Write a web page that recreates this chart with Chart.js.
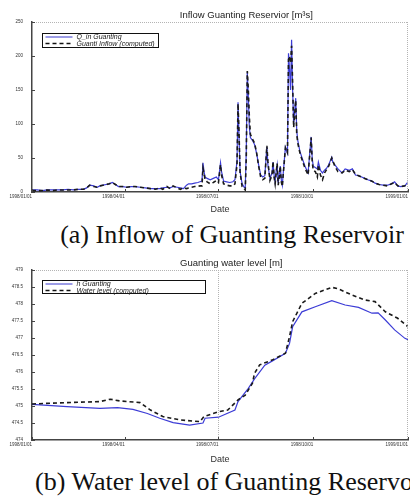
<!DOCTYPE html>
<html><head><meta charset="utf-8">
<script src="https://cdn.jsdelivr.net/npm/chart.js@4"></script>
<style>
html,body{margin:0;padding:0;background:#fff;width:410px;height:498px;overflow:hidden;position:relative}
.c{position:absolute;left:0;width:410px;height:215px}
.cap{position:absolute;left:0;width:464px;text-align:center;white-space:nowrap;font-family:"Liberation Serif","Times New Roman",serif;font-size:26px;line-height:26px;color:#111}
</style></head><body>
<div class="c" style="top:0"><canvas id="c1"></canvas></div>
<div class="cap" style="top:222px">(a) Inflow of Guanting Reservoir</div>
<div class="c" style="top:250px"><canvas id="c2"></canvas></div>
<div class="cap" style="top:469px">(b) Water level of Guanting Reservoir</div>
<script>
// ---- shared x axis (days since 1998/01/01) ----
const xTickDays = [0, 90, 181, 273, 365];
const xTickLabels = ['1998/01/01', '1998/04/01', '1998/07/01', '1998/10/01', '1999/01/01'];

// ---- chart (a): inflow ----
const inflowTitle = 'Inflow Guanting Reservior [m\u00b3s]';
const inflowNames = ['Q_in Guanting', 'Guanti Inflow (computed)'];
const inflowYTicks = [0, 50, 100, 150, 200, 250];
const inflowYLabels = ['0', '50', '100', '150', '200', '250'];
const inflowDays = [
  0,5,10,15,20,25,30,35,40,45,
  50,53,56,60,63,66,69,72,75,78,
  81,84,88,92,96,100,105,110,115,120,
  124,127,131,134,137,141,144,147,150,152,
  155,158,161,163,165,166,167,168,170,173,
  176,179,181,183,184,186,189,192,195,197,
  199,200,201,202,204,206,207,208,209,210,
  211,212,214,216,218,220,222,224,226,228,
  229,231,233,234,235,236,237,238,239,240,
  241,242,243,244,246,248,249,250,251,252,
  253,254,256,257,258,260,262,265,268,271,
  272,273,275,277,278,280,282,284,286,288,
  291,292,294,297,301,304,308,311,314,317,
  320,323,326,330,333,337,341,345,349,352,
  355,358,362,365];
const inflowObserved = [
  3,3,2,3,3,3,3,4,3,4,
  4,6,10,9,7,9,10,11,12,14,
  11,8,8,7,8,8,7,6,5,5,
  5,6,7,6,8,7,6,5,10,12,
  12,13,14,15,16,43,30,22,20,18,
  20,22,18,43,30,16,15,14,15,18,
  45,132,80,30,12,7,6,60,176,140,
  95,80,76,70,57,40,25,22,24,66,
  40,20,28,44,25,15,30,40,13,25,
  38,18,10,30,66,57,204,180,150,224,
  150,100,138,90,76,60,51,38,28,81,
  50,38,36,34,44,32,28,32,35,40,
  51,44,40,34,28,34,32,34,25,24,
  22,20,18,16,13,11,10,10,12,15,
  9,8,9,15];
const inflowComputed = [
  2,2,2,3,2,3,3,3,3,4,
  4,6,10,8,7,9,10,11,12,14,
  11,8,8,7,8,8,7,6,5,4,
  6,4,8,5,9,6,4,6,5,6,
  7,8,8,9,9,35,28,18,15,12,
  14,17,14,40,25,12,10,9,9,12,
  40,130,85,28,8,4,3,50,178,150,
  110,85,78,72,58,38,22,18,20,68,
  45,17,25,45,22,12,28,42,10,22,
  38,15,8,28,65,58,195,200,190,215,
  160,95,135,85,72,58,48,35,25,80,
  45,32,30,22,40,25,18,28,33,38,
  50,46,38,30,28,32,30,33,26,24,
  22,20,18,16,13,11,10,9,12,14,
  9,8,9,14];

// ---- chart (b): water level ----
const levelTitle = 'Guanting water level [m]';
const levelNames = ['h Guanting', 'Water level (computed)'];
const levelYTicks = [474, 474.5, 475, 475.5, 476, 476.5, 477, 477.5, 478, 478.5, 479];
const levelYLabels = ['474', '474.5', '475', '475.5', '476', '476.5', '477', '477.5', '478', '478.5', '479'];
const levelObsDays = [0,34,66,83,98,112,124,137,153,166,168,181,197,200,210,216,226,233,246,250,253,262,275,291,304,317,330,336,343,352,362,365];
const levelObserved = [475.05,474.98,474.93,474.95,474.9,474.78,474.64,474.51,474.44,474.5,474.64,474.67,474.88,475.13,475.52,475.8,476.2,476.32,476.55,476.84,477.33,477.77,477.92,478.1,477.97,477.9,477.73,477.74,477.53,477.24,476.99,476.95];
const levelCompDays = [0,34,66,76,85,105,115,127,144,163,167,181,190,200,207,214,216,221,233,246,250,253,262,275,291,297,311,323,333,343,355,365];
const levelComputed = [475.06,475.1,475.13,475.2,475.15,475.1,474.88,474.69,474.59,474.54,474.69,474.83,474.88,475.18,475.32,475.67,475.96,476.21,476.35,476.55,477.04,477.48,478.02,478.31,478.49,478.45,478.26,478.12,478.07,477.77,477.58,477.33];

const FONT = '"Liberation Sans", Arial, sans-serif';
const zip = (xs, ys) => xs.map((v, i) => ({ x: v, y: ys[i] }));

const framePlugin = {
  id: 'frame',
  afterDraw(chart, args, o) {
    const { ctx, chartArea: a, scales: { x, y } } = chart;
    ctx.save();
    // dotted top / right border and optional vertical marker
    ctx.strokeStyle = '#b4b4b4'; ctx.lineWidth = 1; ctx.setLineDash([1, 1]);
    ctx.beginPath();
    ctx.moveTo(a.left, Math.round(a.top) + 0.5); ctx.lineTo(a.right, Math.round(a.top) + 0.5);
    ctx.moveTo(Math.round(a.right) - 0.5, a.top); ctx.lineTo(Math.round(a.right) - 0.5, a.bottom);
    if (o.vline !== undefined && o.vline !== null) {
      const px = Math.round(x.getPixelForValue(o.vline)) + 0.5;
      ctx.moveTo(px, a.top); ctx.lineTo(px, a.bottom);
    }
    ctx.stroke();
    ctx.setLineDash([]);
    // inward tick marks
    ctx.strokeStyle = '#444'; ctx.lineWidth = 1;
    ctx.beginPath();
    y.ticks.forEach(t => { const py = Math.round(y.getPixelForValue(t.value)) + 0.5; ctx.moveTo(a.left, py); ctx.lineTo(a.left + 3, py); });
    x.ticks.forEach(t => { const px = Math.round(x.getPixelForValue(t.value)) + 0.5; ctx.moveTo(px, a.bottom); ctx.lineTo(px, a.bottom - 3); });
    ctx.stroke();
    // title
    ctx.fillStyle = '#222'; ctx.font = '9.5px ' + FONT; ctx.textAlign = 'center'; ctx.textBaseline = 'alphabetic';
    ctx.fillText(o.title, a.left + o.titleFrac * (a.right - a.left), a.top - 4);
    // legend
    const bx = Math.round(a.left) + 10.5, by = Math.round(a.top) + o.lgTop + 0.5;
    ctx.fillStyle = '#fff'; ctx.fillRect(bx, by, o.lgW, o.lgH);
    ctx.strokeStyle = '#111'; ctx.lineWidth = 1; ctx.strokeRect(bx, by, o.lgW, o.lgH);
    ctx.font = 'italic 7px ' + FONT; ctx.textAlign = 'left'; ctx.textBaseline = 'middle';
    chart.data.datasets.forEach((ds, i) => {
      const ly = by + 3.5 + i * 6.5;
      ctx.beginPath();
      if (i === 0) { ctx.strokeStyle = '#9c9ce6'; ctx.lineWidth = 2; ctx.setLineDash([]); }
      else { ctx.strokeStyle = '#111'; ctx.lineWidth = 1.6; ctx.setLineDash([4, 3]); }
      ctx.moveTo(bx + 3, ly); ctx.lineTo(bx + 30, ly); ctx.stroke();
      ctx.setLineDash([]);
      ctx.fillStyle = '#222';
      ctx.fillText(ds.label, bx + 34, ly + 0.5);
    });
    ctx.restore();
  }
};

function build(id, c) {
  return new Chart(document.getElementById(id), {
    type: 'line',
    data: {
      datasets: [
        { label: c.names[0], data: zip(c.x1, c.y1), borderColor: '#3c3cd6', borderWidth: 1.2, pointRadius: 0, tension: 0, order: 2 },
        { label: c.names[1], data: zip(c.x2, c.y2), borderColor: '#1a1a1a', borderWidth: 1.6, borderDash: [4, 3], pointRadius: 0, tension: 0, order: 1 }
      ]
    },
    options: {
      responsive: true, maintainAspectRatio: false, animation: false,
      layout: { padding: { top: c.padTop, right: 2, left: 0, bottom: 0 } },
      plugins: {
        legend: { display: false }, title: { display: false }, tooltip: { enabled: false },
        frame: { title: c.title, titleFrac: c.titleFrac, vline: c.vline, lgTop: c.lgTop, lgW: c.lgW, lgH: c.lgH }
      },
      scales: {
        x: {
          type: 'linear', min: 0, max: 365,
          afterBuildTicks: s => { s.ticks = xTickDays.map(v => ({ value: v })); },
          afterFit: s => { s.height = c.xH; },
          ticks: { callback: v => { const i = xTickDays.indexOf(v); return i >= 0 ? xTickLabels[i] : ''; }, align: 'end', maxRotation: 0, autoSkip: false, font: { size: 4.5, family: FONT }, color: '#333', padding: 2 },
          grid: { display: false, drawTicks: false },
          border: { display: true, color: '#444', width: 1.5 },
          title: { display: true, text: 'Date', font: { size: 9, family: FONT }, color: '#333', padding: { top: 1, bottom: 0 } }
        },
        y: {
          type: 'linear', min: c.yTicks[0], max: c.yTicks[c.yTicks.length - 1],
          afterBuildTicks: s => { s.ticks = c.yTicks.map(v => ({ value: v })); },
          afterFit: s => { s.width = 32; },
          ticks: { callback: v => { const i = c.yTicks.indexOf(v); return i >= 0 ? c.yLabels[i] : ''; }, font: { size: 4.5, family: FONT }, color: '#333', padding: 9 },
          grid: { display: false, drawTicks: false },
          border: { display: true, color: '#444', width: 1.5 }
        }
      }
    },
    plugins: [framePlugin]
  });
}

build('c1', {
  names: inflowNames, x1: inflowDays, y1: inflowObserved, x2: inflowDays, y2: inflowComputed,
  yTicks: inflowYTicks, yLabels: inflowYLabels, padTop: 22, xH: 23,
  title: inflowTitle, titleFrac: 0.57, vline: null, lgTop: 11, lgW: 116, lgH: 14
});
build('c2', {
  names: levelNames, x1: levelObsDays, y1: levelObserved, x2: levelCompDays, y2: levelComputed,
  yTicks: levelYTicks, yLabels: levelYLabels, padTop: 20, xH: 25,
  title: levelTitle, titleFrac: 0.53, vline: 181, lgTop: 10, lgW: 163, lgH: 13
});
</script>
</body></html>
